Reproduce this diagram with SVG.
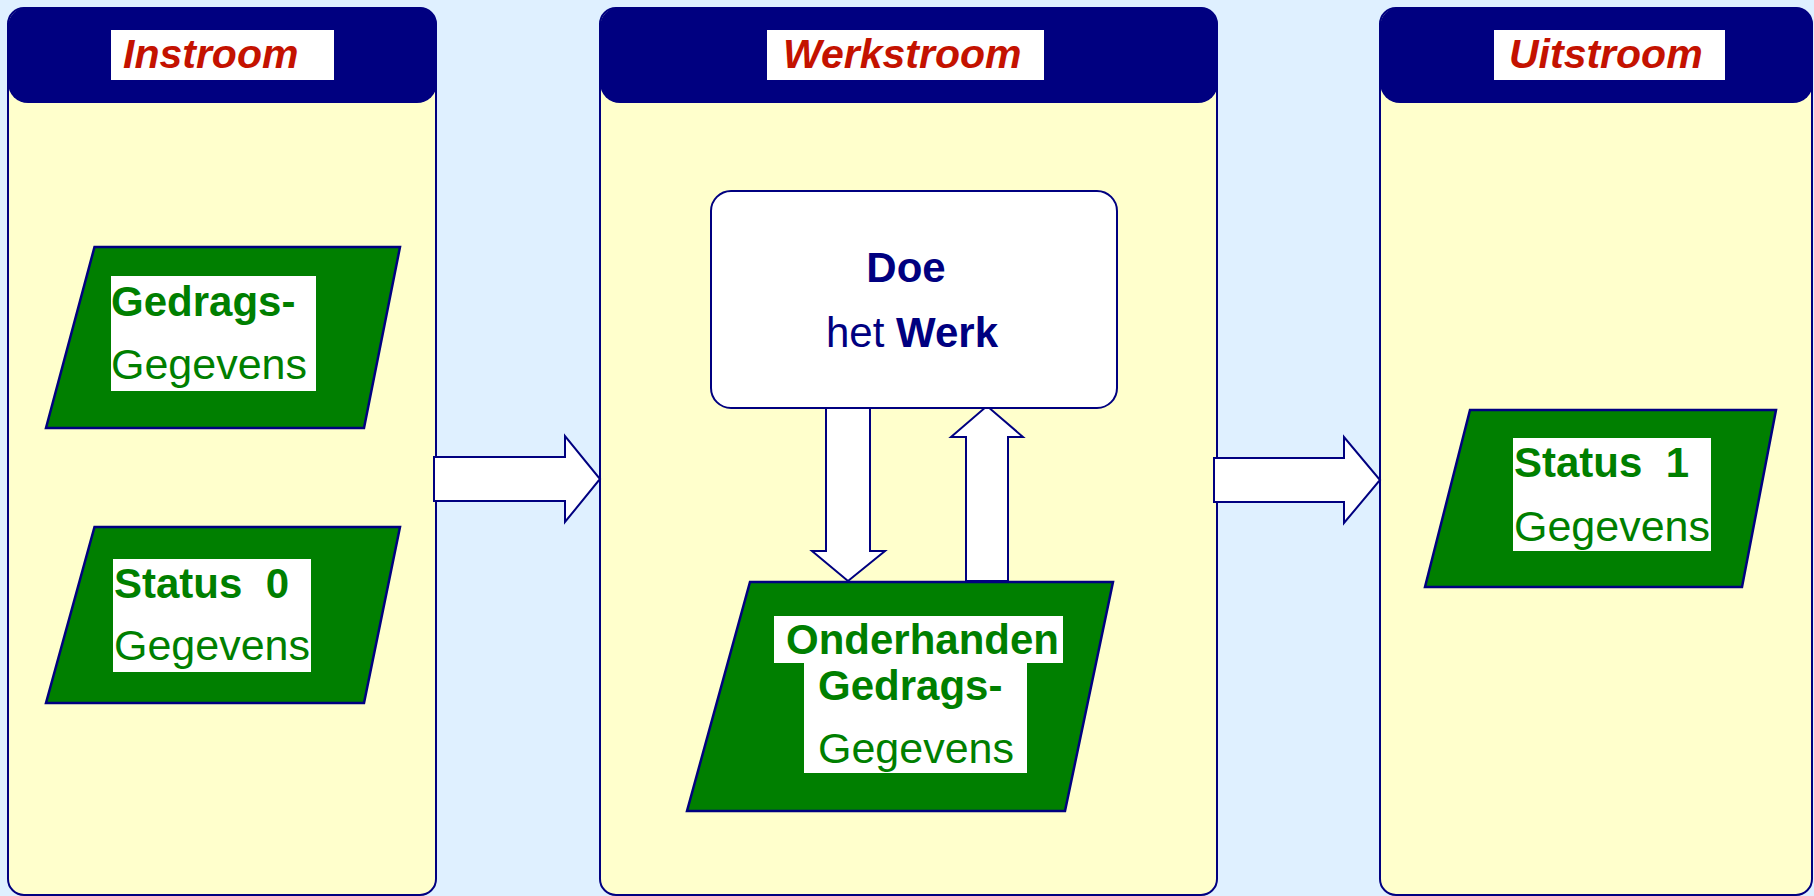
<svg xmlns="http://www.w3.org/2000/svg" width="1814" height="896" viewBox="0 0 1814 896">
<style>
.lane{fill:#FFFFCC;stroke:#000080;stroke-width:2}
.head{fill:#000080}
.lbl{fill:#FFFFFF}
.ht{font-family:"Liberation Sans",Arial,sans-serif;font-size:41px;font-weight:bold;font-style:italic;fill:#C41200}
.data{fill:#007F00;stroke:#000080;stroke-width:2.5}
.tb{fill:#FFFFFF}
.gb{font-family:"Liberation Sans",Arial,sans-serif;font-size:42px;font-weight:bold;fill:#007F00;white-space:pre}
.gn{font-family:"Liberation Sans",Arial,sans-serif;font-size:43px;fill:#007F00}
.proc{fill:#FFFFFF;stroke:#000080;stroke-width:2}
.pt{font-family:"Liberation Sans",Arial,sans-serif;font-size:42px;fill:#000080}
.arr{fill:#FFFFFF;stroke:#000080;stroke-width:2;stroke-linejoin:miter}
</style>
<rect x="0" y="0" width="1814" height="896" fill="#DFF0FF"/>

<g id="lane-instroom">
<rect class="lane" x="8" y="8" width="428" height="887" rx="16"/>
<rect class="head" x="8" y="7" width="429" height="96" rx="20"/>
<rect class="lbl" x="111" y="30" width="223" height="50"/>
<text class="ht" x="123" y="68">Instroom</text>
</g>

<g id="lane-werkstroom">
<rect class="lane" x="600" y="8" width="617" height="887" rx="16"/>
<rect class="head" x="600" y="7" width="618" height="96" rx="20"/>
<rect class="lbl" x="767" y="30" width="277" height="50"/>
<text class="ht" x="783" y="68">Werkstroom</text>
</g>

<g id="lane-uitstroom">
<rect class="lane" x="1380" y="8" width="432" height="887" rx="16"/>
<rect class="head" x="1380" y="7" width="433" height="96" rx="20"/>
<rect class="lbl" x="1494" y="30" width="231" height="50"/>
<text class="ht" x="1509" y="68">Uitstroom</text>
</g>

<g id="connectors">
<polygon class="arr" points="434,457 565,457 565,436 600,479 565,522 565,501 434,501"/>
<polygon class="arr" points="1214,458 1344,458 1344,437 1380,480 1344,523 1344,502 1214,502"/>
<polygon class="arr" points="826,406 870,406 870,551 885,551 848,581 812,551 826,551"/>
<polygon class="arr" points="966,581 1008,581 1008,437 1023,437 987,406 951,437 966,437"/>
</g>

<g id="gedragsgegevens">
<polygon class="data" points="94.5,247 400,247 364,428 46,428"/>
<rect class="tb" x="111" y="276" width="205" height="115"/>
<text class="gb" x="111" y="316">Gedrags-</text>
<text class="gn" x="111" y="379">Gegevens</text>
</g>

<g id="status0">
<polygon class="data" points="94.5,527 400,527 364,703 46,703"/>
<rect class="tb" x="113" y="559" width="198" height="113"/>
<text class="gb" x="114" y="598">Status  0</text>
<text class="gn" x="114" y="660">Gegevens</text>
</g>

<g id="doe-het-werk">
<rect class="proc" x="711" y="191" width="406" height="217" rx="20"/>
<text class="pt" x="906" y="282" text-anchor="middle" font-weight="bold">Doe</text>
<text class="pt" x="912" y="347" text-anchor="middle">het <tspan font-weight="bold">Werk</tspan></text>
</g>

<g id="onderhanden">
<polygon class="data" points="750,582 1113,582 1065,811 687,811"/>
<rect class="tb" x="774" y="616" width="289" height="47"/>
<rect class="tb" x="804" y="662" width="223" height="111"/>
<text class="gb" x="786" y="654" font-size="41">Onderhanden</text>
<text class="gb" x="818" y="700">Gedrags-</text>
<text class="gn" x="818" y="763">Gegevens</text>
</g>

<g id="status1">
<polygon class="data" points="1470,410 1776,410 1742,587 1425,587"/>
<rect class="tb" x="1513" y="438" width="198" height="113"/>
<text class="gb" x="1514" y="477">Status  1</text>
<text class="gn" x="1514" y="541">Gegevens</text>
</g>
</svg>
